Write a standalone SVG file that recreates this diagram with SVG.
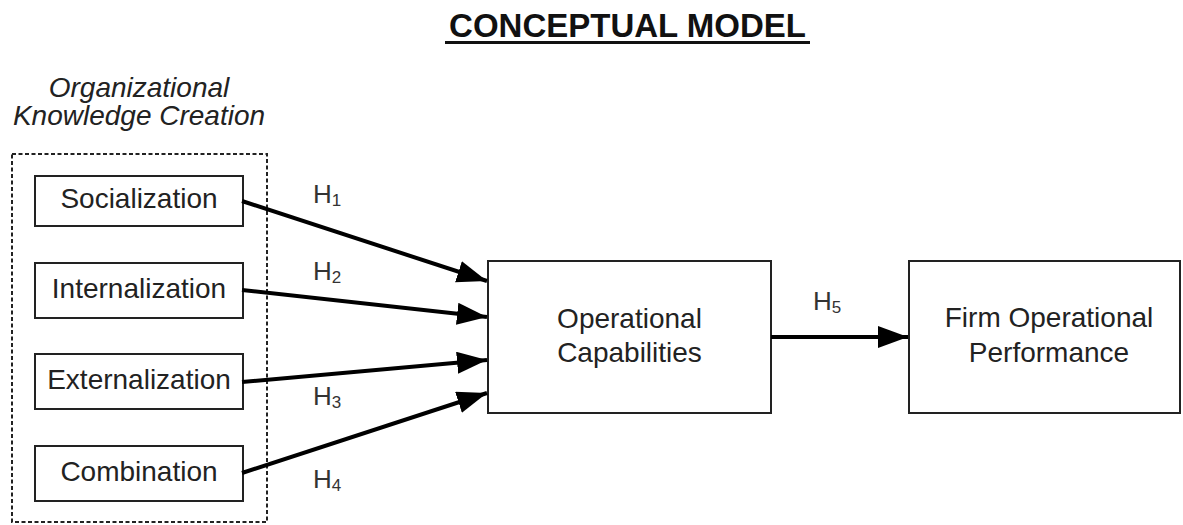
<svg xmlns="http://www.w3.org/2000/svg" width="1183" height="525" viewBox="0 0 1183 525">
<style>
.box{fill:#fff;stroke:#222;stroke-width:2}
.t{font-family:"Liberation Sans",Arial,sans-serif;fill:#222;font-size:28px;text-anchor:middle}
.h{font-family:"Liberation Sans",Arial,sans-serif;fill:#333;font-size:26px}
.sub{font-size:17px}
.conn{stroke:#000;stroke-width:4;fill:none;marker-end:url(#ah)}
</style>
<defs>
<marker id="ah" markerUnits="userSpaceOnUse" markerWidth="32" markerHeight="24" refX="30" refY="11" orient="auto">
<path d="M0,0 L30,11 L0,22 Z" fill="#000"/>
</marker>
</defs>
<rect width="1183" height="525" fill="#fff"/>
<g id="title">
<text x="627.5" y="37" font-family="'Liberation Sans',Arial,sans-serif" font-weight="bold" font-size="33" text-anchor="middle" fill="#111">CONCEPTUAL MODEL</text>
<line x1="445" y1="42.5" x2="810" y2="42.5" stroke="#111" stroke-width="3"/>
</g>
<g id="okc-group">
<text class="t" x="139" y="97" font-style="italic">Organizational</text>
<text class="t" x="139" y="125" font-style="italic">Knowledge Creation</text>
<rect x="12" y="154" width="255" height="368" fill="none" stroke="#222" stroke-width="2" stroke-dasharray="4,2.5"/>
</g>
<g id="socialization">
<rect class="box" x="35" y="176" width="208" height="50"/>
<text class="t" x="139" y="208">Socialization</text>
</g>
<g id="internalization">
<rect class="box" x="35" y="263" width="208" height="55"/>
<text class="t" x="139" y="298">Internalization</text>
</g>
<g id="externalization">
<rect class="box" x="35" y="354" width="208" height="55"/>
<text class="t" x="139" y="389">Externalization</text>
</g>
<g id="combination">
<rect class="box" x="35" y="446" width="208" height="55"/>
<text class="t" x="139" y="481">Combination</text>
</g>
<g id="operational-capabilities">
<rect class="box" x="488" y="261" width="283" height="152"/>
<text class="t" x="629.5" y="328">Operational</text>
<text class="t" x="629.5" y="362">Capabilities</text>
</g>
<g id="firm-performance">
<rect class="box" x="909" y="261" width="271" height="152"/>
<text class="t" x="1049" y="327">Firm Operational</text>
<text class="t" x="1049" y="362">Performance</text>
</g>
<g id="connectors">
<line class="conn" x1="242" y1="201" x2="487" y2="281"/>
<line class="conn" x1="242" y1="290" x2="487" y2="317"/>
<line class="conn" x1="242" y1="382" x2="487" y2="360"/>
<line class="conn" x1="242" y1="473" x2="487" y2="393"/>
<line class="conn" x1="771" y1="337" x2="908" y2="337"/>
<text class="h" x="313" y="203">H<tspan class="sub" dy="3">1</tspan></text>
<text class="h" x="313" y="280">H<tspan class="sub" dy="3">2</tspan></text>
<text class="h" x="313" y="405">H<tspan class="sub" dy="3">3</tspan></text>
<text class="h" x="313" y="488">H<tspan class="sub" dy="3">4</tspan></text>
<text class="h" x="813" y="310">H<tspan class="sub" dy="3">5</tspan></text>
</g>
</svg>
